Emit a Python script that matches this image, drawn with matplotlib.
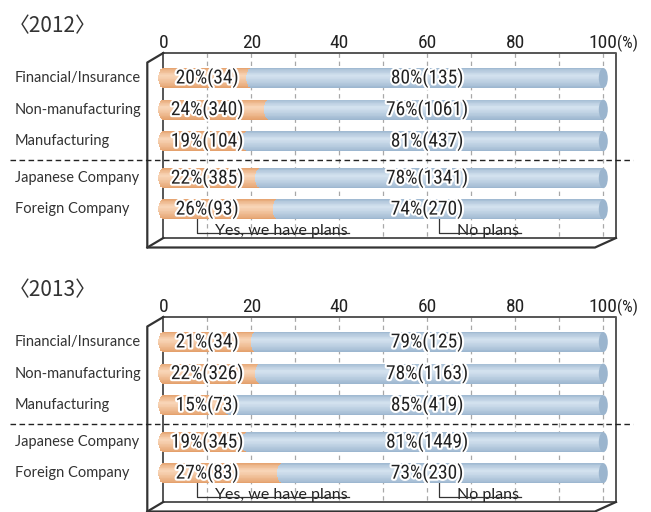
import matplotlib
matplotlib.use('Agg')
import matplotlib.pyplot as plt
import matplotlib.patheffects as pe
from matplotlib import font_manager
from matplotlib.patches import Ellipse
import numpy as np

# survey data: share of companies with plans (yes) vs. none (no), counts in brackets
categories = ['Financial/Insurance', 'Non-manufacturing', 'Manufacturing',
              'Japanese Company', 'Foreign Company']
ticks = [0, 20, 40, 60, 80, 100]

yes_2012 = [20, 24, 19, 22, 26]
no_2012 = [80, 76, 81, 78, 74]
n_yes_2012 = [34, 340, 104, 385, 93]
n_no_2012 = [135, 1061, 437, 1341, 270]

yes_2013 = [21, 22, 15, 19, 27]
no_2013 = [79, 78, 85, 81, 73]
n_yes_2013 = [34, 326, 73, 345, 83]
n_no_2013 = [125, 1163, 419, 1449, 230]

W, H, DPI = 651, 512, 100
PX_X = 4.4          # pixels per percent
X0_PX = 163.3       # pixel column of 0%
ROW_PX = 31.6       # pixels per row slot
ROW0_PX = 78        # first row centre inside a panel
PANEL_H = 256
row_pos = np.array([0, 1, 2, 3.17, 4.15])

# pick a condensed face for the numbers if one is installed
_fonts = {(f.name, f.stretch) for f in font_manager.fontManager.ttflist}
_names = {n for n, s in _fonts}
NARROW_STRETCH = 'normal'
NARROW = ['Roboto', 'DejaVu Sans']
for cand in ['Roboto Condensed', 'Liberation Sans Narrow', 'Noto Sans Condensed',
             'Open Sans Condensed', 'DejaVu Sans Condensed']:
    if cand in _names:
        NARROW = [cand, 'DejaVu Sans']
        break
else:
    for fam in ['Noto Sans', 'Open Sans', 'DejaVu Sans', 'Roboto']:
        if (fam, 'condensed') in _fonts or (fam, 'semi-condensed') in _fonts:
            NARROW = [fam, 'DejaVu Sans']
            NARROW_STRETCH = 'condensed'
            break

LABEL_FONT = ['Lato', 'DejaVu Sans']
TITLE_FONT = ['Noto Sans CJK JP', 'DejaVu Sans']

ORANGE_DARK = np.array([0xE2, 0x9C, 0x66]) / 255
ORANGE_LIGHT = np.array([0xF9, 0xD6, 0xB8]) / 255
BLUE_DARK = np.array([0x98, 0xB3, 0xCD]) / 255
BLUE_LIGHT = np.array([0xD4, 0xE2, 0xEF]) / 255
BLUE_CAP = '#9BB5CE'


def px_x(p):
    return p / PX_X


def px_y(p):
    return p / ROW_PX


def shade(dark, light, u):
    f = np.interp(u, [0, 0.12, 0.38, 0.55, 0.85, 1.0], [0.1, 0.45, 1.0, 0.8, 0.35, 0.05])
    return dark + (light - dark) * f


def cylinder(ax, y, x0, width, dark, light, half_h, cap, z, n=26):
    # stack thin barh strips with a vertical gradient; left end rounded
    tc = np.linspace(-1, 1, n + 1)
    tc = (tc[:-1] + tc[1:]) / 2
    ys = y + tc * half_h
    reach = cap * np.sqrt(1 - tc ** 2)
    cols = [shade(dark, light, (t + 1) / 2) for t in tc]
    ax.barh(ys, width + reach, left=x0 - reach, height=2 * half_h / n * 1.15,
            color=cols, linewidth=0, zorder=z)


def draw_panel(ax, title, yes, no, n_yes, n_no):
    ax.set_xlim(-X0_PX / PX_X, (W - X0_PX) / PX_X)
    ax.set_ylim((PANEL_H - ROW0_PX) / ROW_PX, -ROW0_PX / ROW_PX)
    ax.axis('off')

    top_y = px_y(53 - ROW0_PX)
    bot_y = px_y(238 - ROW0_PX)
    right_x = px_x(616 - X0_PX)
    half_h = px_y(10)
    cap = px_x(5)

    # dashed grid inside the box
    for g in range(10, 101, 10):
        ax.plot([g, g], [top_y, bot_y], color='#a8a8a8', lw=0.9,
                ls=(0, (3.5, 3)), zorder=1)

    # back panel of the box
    back = dict(color='#555555', lw=1.4, zorder=2, solid_capstyle='projecting')
    ax.plot([0, right_x, right_x], [top_y, top_y, bot_y], **back)
    ax.plot([0, 0], [top_y, bot_y], **back)
    ax.plot([0, right_x], [bot_y, bot_y], **back)

    # front edges
    dxl, dxr, dy = px_x(-16), px_x(-21), px_y(9.5)
    front = dict(color='#333333', lw=1.6, zorder=2)
    ax.plot([0, dxl, dxl, right_x + dxr, right_x],
            [top_y, top_y + dy, bot_y + dy, bot_y + dy, bot_y], **front)
    ax.plot([0, dxl], [bot_y, bot_y + dy], **front)

    # category separator
    sep_y = (row_pos[2] + row_pos[3]) / 2
    ax.plot([px_x(10 - X0_PX), px_x(633 - X0_PX)], [sep_y, sep_y],
            color='#222222', lw=1.0, ls=(0, (4, 2.5)), zorder=3)

    num = dict(family=NARROW, fontstretch=NARROW_STRETCH, color='#222222')
    stroke = [pe.withStroke(linewidth=3, foreground='white')]
    for y, cat, a, b, na, nb in zip(row_pos, categories, yes, no, n_yes, n_no):
        cylinder(ax, y, 0, a, ORANGE_DARK, ORANGE_LIGHT, half_h, cap, 4)
        cylinder(ax, y, a, b, BLUE_DARK, BLUE_LIGHT, half_h, cap, 5)
        ax.add_patch(Ellipse((a + b, y), 2 * px_x(4.5), 2 * half_h,
                             color=BLUE_CAP, lw=0, zorder=6))
        ax.text(px_x(15 - X0_PX), y, cat, ha='left', va='center',
                fontsize=10.5, color='#333333', family=LABEL_FONT)
        ax.text(10, y + px_y(5.5), f'{a}%({na})', ha='center', va='baseline',
                fontsize=14, path_effects=stroke, zorder=8, **num)
        ax.text(60, y + px_y(5.5), f'{b}%({nb})', ha='center', va='baseline',
                fontsize=14, path_effects=stroke, zorder=8, **num)

    tick_base = px_y(48.5 - ROW0_PX)
    for t in ticks:
        ax.text(t, tick_base, str(t), ha='center', va='baseline', fontsize=14, **num)
    ax.text(100 + px_x(14), tick_base, '(%)', ha='left', va='baseline', fontsize=12, **num)

    ax.text(px_x(9 - X0_PX), px_y(32 - ROW0_PX), title, ha='left', va='baseline',
            fontsize=15, color='#333333', family=TITLE_FONT)

    # leader notes under the last bar
    line_y = px_y(233 - ROW0_PX)
    bar_bottom = row_pos[-1] + half_h
    notes = []
    for lx, label in [(px_x(196.7 - X0_PX), 'Yes, we have plans'),
                      (px_x(439 - X0_PX), 'No plans')]:
        tx = lx + px_x(18)
        txt = ax.text(tx, line_y + px_y(1.5), label, ha='left', va='baseline',
                      fontsize=11.5, color='#222222', family=LABEL_FONT, zorder=3)
        notes.append((lx, txt))
    return notes, bar_bottom, line_y


fig = plt.figure(figsize=(W / DPI, H / DPI), dpi=DPI)
fig.patch.set_facecolor('white')

panels = []
for top, title, yes, no, ny, nn in [(0, '〈2012〉', yes_2012, no_2012, n_yes_2012, n_no_2012),
                                     (264, '〈2013〉', yes_2013, no_2013, n_yes_2013, n_no_2013)]:
    ax = fig.add_axes([0, 1 - (top + PANEL_H) / H, 1, PANEL_H / H])
    panels.append((ax, draw_panel(ax, title, yes, no, ny, nn)))

fig.canvas.draw()
for ax, (notes, bar_bottom, line_y) in panels:
    inv = ax.transData.inverted()
    for lx, txt in notes:
        bb = txt.get_window_extent()
        x_end = inv.transform((bb.x1 + 2, bb.y0))[0]
        ax.plot([lx, lx, x_end], [bar_bottom, line_y, line_y],
                color='#333333', lw=0.9, zorder=3)

fig.savefig('out.png', dpi=DPI)
